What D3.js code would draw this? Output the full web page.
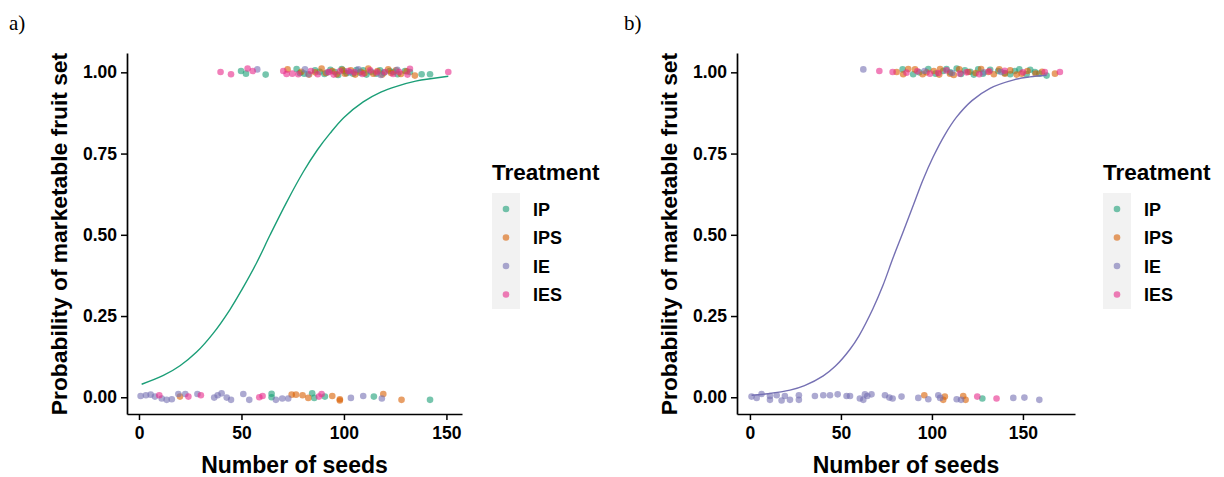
<!DOCTYPE html>
<html><head><meta charset="utf-8">
<script src="https://cdn.jsdelivr.net/npm/d3@7"></script>
<style>body{margin:0;background:#fff}svg{display:block}</style>
</head><body>
<svg id="c" width="1224" height="477"></svg>
<script>
// ---- data (seeds, observed outcome with jitter as drawn) ----
const treatments = ["IP", "IPS", "IE", "IES"];
const colors = ["#1b9e77", "#d95f02", "#7570b3", "#e7298a"];
const yTicks = [0, 0.25, 0.5, 0.75, 1];
const xTicks = [0, 50, 100, 150];

// Panel a
const aIP = [[49.8,1.004],[52.2,0.996],[61.8,0.993],[76.9,1.01],[80.6,0.996],[85.9,1.006],[90.5,0.995],[93.4,1.008],[95.6,1.001],[97.2,0.992],[98.9,1.01],[101.3,0.997],[104.5,0.996],[106.1,1.007],[109.4,1.006],[111,0.993],[113.2,1.002],[115.8,0.996],[117.6,1.006],[119.5,0.999],[122.3,1.004],[124.1,1.001],[126.2,0.994],[129.8,1.004],[132.2,1.001],[137.9,0.994],[142,0.994],[88.2,1.002],[78.5,0.998],[100,1.004],[107.8,0.999],
  [64.7,0.011],[64.7,0],[84.5,0.012],[85.5,-0.002],[90.7,0.002],[114.6,0.002],[142,-0.008]];
const aIPS = [[72.5,1.009],[79.2,1.002],[83,0.993],[89.1,1.012],[91.2,0.998],[94.3,1.004],[96.5,0.994],[100.5,0.996],[103.3,1.006],[105.5,0.993],[108.2,1.002],[111.9,1.012],[114.3,0.996],[116.4,1.004],[118.7,0.993],[121.6,1.009],[123,0.998],[125.4,1.006],[127.8,0.995],[130.6,1.003],[134.6,0.99],[86,1.0],[99.2,1.008],[110,0.997],
  [20,0.002],[74.5,0.008],[76.6,0.008],[79.8,0.006],[82.6,-0.002],[94.3,0.004],[98,-0.006],[119.2,0.01],[128.1,-0.008],[98,-0.01]];
const aIE = [[57.7,1.009],[81,1.009],[82.6,0.994],[107,1.009],[92,1.0],[118,0.992],[126,1.008],[103,1.0],
  [0.8,0.004],[3.4,0.006],[5.7,0.008],[7.8,0.002],[11.1,-0.004],[13.5,-0.008],[16,-0.006],[19.2,0.01],[22.6,0.01],[28.5,0.01],[36.7,-0.001],[38.4,0.006],[40.3,0.012],[42.8,-0.001],[44.9,-0.008],[50.9,0.01],[53.8,-0.008],[66.8,-0.008],[69.9,-0.004],[72.8,-0.004],[103.4,-0.002],[109.4,0.004],[118.5,-0.004]];
const aIES = [[39.8,1.001],[44.9,0.994],[53,1.012],[55.5,1.004],[70.4,1.004],[74.8,0.996],[77.7,0.994],[83.9,1.004],[87.2,0.994],[92.7,1.001],[95,0.993],[102.1,1.004],[105,1.0],[109,0.995],[112.8,1.006],[116,1.0],[120,1.001],[124,0.995],[127,1.001],[131,0.993],[132.2,1.011],[150.9,1.001],[98,1.003],[72,0.995],
  [9.9,0.006],[24.1,0.002],[30.2,0.006],[58.7,0],[60.3,0.004],[87.8,0.002],[89.1,0.01]];
const aCurveX = [1.3, 11.9, 20, 28.1, 36, 44.4, 50, 57.4, 64, 72, 80.2, 87, 93.2, 100, 109.4, 118, 125.7, 135, 150.9];
const aCurveY = [0.04, 0.067, 0.097, 0.139, 0.195, 0.27, 0.329, 0.414, 0.5, 0.6, 0.694, 0.761, 0.812, 0.861, 0.909, 0.939, 0.957, 0.973, 0.988];

// Panel b
const bIP = [[83.9,1.009],[89.7,0.994],[106.2,1.004],[113.6,1.012],[118.1,1.006],[125.4,1.009],[136.4,1.004],[145.6,1.004],[152,0.994],[156.6,1.001],[163,0.99],[93,1.0],[98,1.01],[102,0.996],[110,1.0],[116,0.995],[121,1.002],[128,0.996],[132,1.008],[140,0.998],[148,1.009],[159,0.996],[108,1.01],[123,0.993],[143,0.994],[154,1.008],
  [127.7,-0.004]];
const bIPS = [[80.6,1.001],[84.2,0.994],[90.7,1.009],[94.9,0.994],[101,1.004],[109.9,0.996],[120,1.001],[130.9,1.001],[140.1,0.996],[149.3,0.996],[167.6,0.996],[87,1.01],[97,1.0],[104.5,1.01],[112,0.992],[115,1.009],[124,0.998],[127,1.01],[134,0.994],[137,1.009],[143,1.006],[146.5,0.993],[152.5,1.004],[157,0.996],[160.5,1.002],[104,0.993],
  [95.8,0.006],[106.2,-0.008],[107.1,0.002],[117.2,0.004],[118.5,-0.008]];
const bIE = [[62.3,1.009],[96,1.004],[111,0.998],[128.5,1.0],[138,1.001],
  [0.9,0.002],[3.7,-0.002],[6.4,0.01],[11,0.004],[11,-0.008],[14.7,0.006],[17.4,-0.01],[19.2,0.004],[22,-0.008],[26.9,0.006],[26.9,-0.008],[35.7,0.004],[40.3,0.006],[44,0.006],[48.2,0.009],[53.1,0.004],[55,0.004],[60.4,-0.004],[62.3,-0.008],[63.2,0.009],[64.5,0.004],[66.8,0.009],[74.2,0.006],[76.6,-0.001],[78.4,-0.004],[83.3,0.002],[92.5,-0.002],[98,-0.006],[103.5,0.006],[104.5,-0.002],[113.6,-0.006],[116,-0.008],[144.7,-0.002],[150.8,-0.001],[159,-0.008]];
const bIES = [[71.1,1.004],[78.4,1.001],[98.9,0.996],[103.5,0.998],[108,1.006],[115.4,0.996],[119,1.0],[126,0.994],[131.5,1.003],[140,1.005],[150,1.0],[162,1.001],[170.3,1.001],[92,1.003],[86,0.999],
  [124.9,0.002],[135.5,-0.004]];
const bCurveX = [0.9, 10, 22, 30, 40.3, 47, 54.9, 60, 67.7, 73, 78.7, 84, 89.7, 95, 100.7, 107, 113.5, 122, 131.9, 145, 153.8, 163];
const bCurveY = [0.006, 0.011, 0.022, 0.036, 0.066, 0.096, 0.147, 0.19, 0.274, 0.343, 0.43, 0.506, 0.59, 0.668, 0.74, 0.807, 0.862, 0.913, 0.951, 0.977, 0.986, 0.991];

// ---- drawing ----
const svg = d3.select("#c");
const FONT = "'Liberation Sans', Arial, sans-serif";

function panel(opt) {
  const g = svg.append("g");
  const x = d3.scaleLinear().domain(opt.xDomain).range([opt.left, opt.right]);
  const y = d3.scaleLinear().domain([-0.0515, 1.0595]).range([414, 53]);

  opt.sets.forEach((pts, i) => {
    g.append("g").selectAll("circle").data(pts).enter().append("circle")
      .attr("cx", d => x(d[0])).attr("cy", d => y(d[1])).attr("r", 3.3)
      .attr("fill", colors[i]).attr("fill-opacity", 0.6);
  });
  const cp = opt.cx.map((v, i) => [v, opt.cy[i]]);
  g.append("path").datum(cp)
    .attr("d", d3.line().x(d => x(d[0])).y(d => y(d[1])).curve(d3.curveCatmullRom))
    .attr("fill", "none").attr("stroke", opt.curveColor).attr("stroke-width", 1.4);

  const ax = g.append("g").attr("transform", `translate(0,414)`)
    .call(d3.axisBottom(x).tickValues(xTicks).tickSize(6).tickSizeOuter(0).tickPadding(7).tickFormat(d3.format("d")));
  const ay = g.append("g").attr("transform", `translate(${opt.left},0)`)
    .call(d3.axisLeft(y).tickValues(yTicks).tickSize(6).tickSizeOuter(0).tickPadding(4).tickFormat(d3.format(".2f")));
  [ax, ay].forEach(a => {
    a.select(".domain").attr("stroke", "#000").attr("stroke-width", 1.7);
    a.selectAll(".tick line").attr("stroke", "#000").attr("stroke-width", 1.5);
    a.selectAll(".tick text").attr("fill", "#000").attr("font-family", FONT)
      .attr("font-weight", "bold").attr("font-size", 17.5);
  });

  g.append("text").attr("x", (opt.left + opt.right) / 2).attr("y", 473)
    .attr("text-anchor", "middle").attr("font-family", FONT).attr("font-weight", "bold")
    .attr("font-size", 23).text("Number of seeds");
  g.append("text").attr("transform", `translate(${opt.left - 60},234) rotate(-90)`)
    .attr("text-anchor", "middle").attr("font-family", FONT).attr("font-weight", "bold")
    .attr("font-size", 22.8).text("Probability of marketable fruit set");
  g.append("text").attr("x", opt.tagX).attr("y", 30)
    .attr("font-family", "'Liberation Serif', 'Times New Roman', serif")
    .attr("font-size", 21).text(opt.tag);

  const lx = opt.legendX;
  g.append("text").attr("x", lx).attr("y", 180).attr("font-family", FONT)
    .attr("font-weight", "bold").attr("font-size", 22.5).text("Treatment");
  g.append("rect").attr("x", lx).attr("y", 193).attr("width", 28).attr("height", 116).attr("fill", "#f2f2f2");
  treatments.forEach((t, i) => {
    const cy = 209 + i * 28.5;
    g.append("circle").attr("cx", lx + 14).attr("cy", cy).attr("r", 3.3)
      .attr("fill", colors[i]).attr("fill-opacity", 0.6);
    g.append("text").attr("x", lx + 41).attr("y", cy + 6.5).attr("font-family", FONT)
      .attr("font-weight", "bold").attr("font-size", 18).text(t);
  });
}

panel({ xDomain: [-5.85, 157.6], left: 127, right: 462, sets: [aIP, aIPS, aIE, aIES],
  cx: aCurveX, cy: aCurveY, curveColor: colors[0], legendX: 492, tag: "a)", tagX: 9 });
panel({ xDomain: [-7.1, 178.6], left: 737, right: 1075, sets: [bIP, bIPS, bIE, bIES],
  cx: bCurveX, cy: bCurveY, curveColor: colors[2], legendX: 1103, tag: "b)", tagX: 624 });
</script>
</body></html>
